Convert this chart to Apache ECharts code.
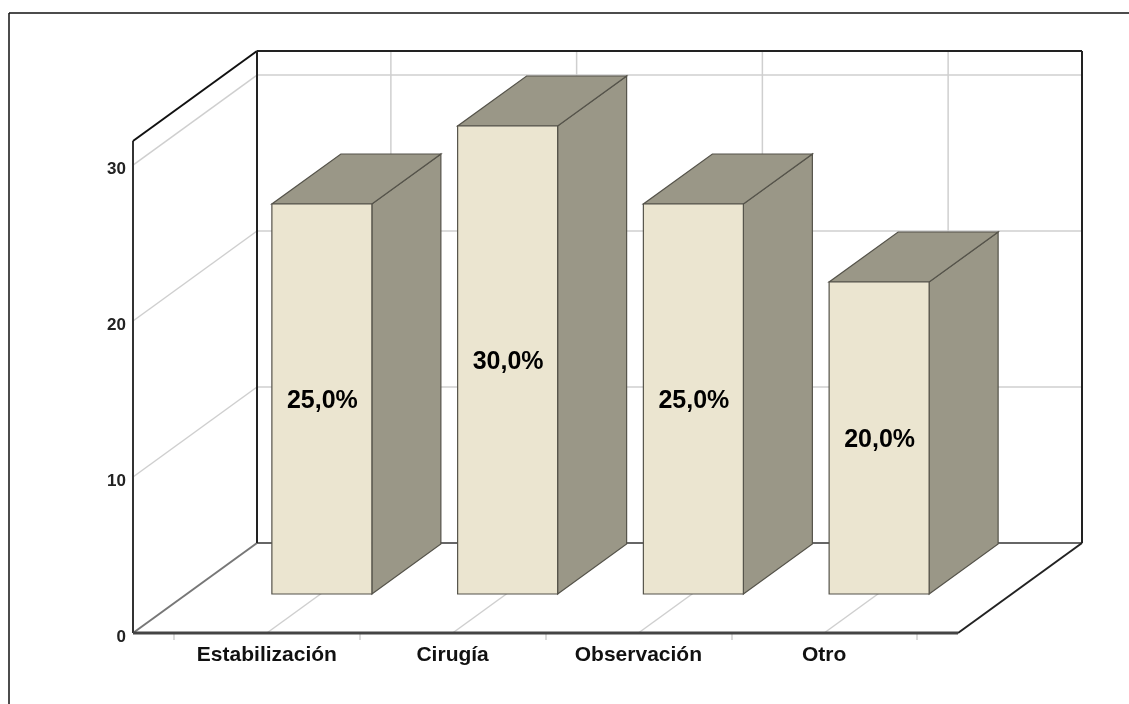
<!DOCTYPE html>
<html><head><meta charset="utf-8">
<style>html,body{margin:0;padding:0;background:#fff}#c{width:1129px;height:704px}</style>
<script src="https://cdn.jsdelivr.net/npm/echarts@6/dist/echarts.min.js"></script>
</head><body><div id="c"></div>
<script>
var categories = ['Estabilización','Cirugía','Observación','Otro'];
var values = [25,30,25,20];
var percentLabels = ['25,0%','30,0%','25,0%','20,0%'];
var wallTicks = [10,20,30];
var yMax = 31.54;

var DX = 124, DY = 90, SIDE = 41;
var BAR_W = 100, BAR_DX = 55, BAR_DY = 39, DEPTH_X = 69, DEPTH_Y = 50;
var FONT = '"Liberation Sans", Arial, sans-serif';

function line(x1,y1,x2,y2,color,w){
  return {type:'line',shape:{x1:x1,y1:y1,x2:x2,y2:y2},style:{stroke:color,lineWidth:w,fill:null}};
}
function poly(pts,fill,stroke){
  return {type:'polygon',shape:{points:pts},style:{fill:fill,stroke:stroke,lineWidth:1.2,lineJoin:'miter'}};
}

function renderFrame(params, api){
  var cs = params.coordSys;
  var xl = cs.x - SIDE, xr = cs.x + cs.width + SIDE;
  var yb = api.coord([0,0])[1], yt = api.coord([0,yMax])[1];
  var kids = [];
  var grid = '#cfcfcf';
  wallTicks.forEach(function(v){
    var y = api.coord([0,v])[1];
    kids.push(line(xl,y,xl+DX,y-DY,grid,1.5));
    kids.push(line(xl+DX,y-DY,xr+DX,y-DY,grid,1.5));
  });
  categories.forEach(function(c,i){
    var x = api.coord([i,0])[0];
    kids.push(line(x,yb,x+DX,yb-DY,grid,1.5));
    kids.push(line(x+DX,yb-DY,x+DX,yt-DY,grid,1.5));
  });
  kids.push(line(xl,yb,xl+DX,yb-DY,'#777',2));
  kids.push(line(xl+DX,yb-DY,xr+DX,yb-DY,'#666',2));
  kids.push(line(xl,yb,xl,yt,'#333',2));
  kids.push(line(xl,yt,xl+DX,yt-DY,'#111',2));
  kids.push(line(xl+DX,yt-DY,xl+DX,yb-DY,'#222',2));
  kids.push(line(xl+DX,yt-DY,xr+DX,yt-DY,'#222',2));
  kids.push(line(xr+DX,yt-DY,xr+DX,yb-DY,'#222',2));
  kids.push(line(xr,yb,xr+DX,yb-DY,'#222',2));
  kids.push(line(xl,yb,xr,yb,'#444',3));
  return {type:'group',children:kids};
}

function renderBar(params, api){
  var i = api.value(0), v = api.value(1);
  var p0 = api.coord([i,0]), p1 = api.coord([i,v]);
  var xa = p0[0] + BAR_DX - BAR_W/2, xb = xa + BAR_W;
  var yb = p0[1] - BAR_DY, yt = p1[1] - BAR_DY;
  var top = '#9a9787', side = '#9a9787', front = '#ebe5d0', edge = '#55534a';
  return {type:'group',children:[
    poly([[xb,yb],[xb+DEPTH_X,yb-DEPTH_Y],[xb+DEPTH_X,yt-DEPTH_Y],[xb,yt]],side,edge),
    poly([[xa,yt],[xb,yt],[xb+DEPTH_X,yt-DEPTH_Y],[xa+DEPTH_X,yt-DEPTH_Y]],top,edge),
    poly([[xa,yb],[xb,yb],[xb,yt],[xa,yt]],front,edge),
    {type:'text',style:{text:percentLabels[i],x:(xa+xb)/2+0.5,y:(yb+yt)/2+2,align:'center',verticalAlign:'middle',
      font:'bold 25px '+FONT,fill:'#000'}}
  ]};
}

var chart = echarts.init(document.getElementById('c'),null,{renderer:'canvas'});
chart.setOption({
  animation:false,
  backgroundColor:'#fff',
  graphic:[
    {type:'line',shape:{x1:9,y1:13,x2:1129,y2:13},style:{stroke:'#111',lineWidth:1.5}},
    {type:'line',shape:{x1:9,y1:13,x2:9,y2:704},style:{stroke:'#111',lineWidth:1.5}}
  ],
  grid:{left:174,top:141,width:743,height:492,containLabel:false},
  xAxis:{type:'category',data:categories,boundaryGap:true,
    axisLine:{show:false},
    axisTick:{show:true,alignWithLabel:false,length:7,lineStyle:{color:'#cfcfcf',width:1.5}},
    axisLabel:{interval:0,margin:12,fontFamily:FONT,fontWeight:'bold',fontSize:21,color:'#111'}},
  yAxis:{type:'value',min:0,max:yMax,interval:10,offset:SIDE,
    axisLine:{show:false},axisTick:{show:false},splitLine:{show:false},
    axisLabel:{showMaxLabel:false,margin:7,verticalAlign:'top',lineHeight:8,fontFamily:FONT,fontWeight:'bold',fontSize:17,color:'#222'}},
  series:[
    {type:'custom',coordinateSystem:'cartesian2d',clip:false,silent:true,z:1,
      renderItem:renderFrame,data:[[0,0]],encode:{x:0,y:1}},
    {type:'custom',coordinateSystem:'cartesian2d',clip:false,silent:true,z:2,
      renderItem:renderBar,data:values.map(function(v,i){return [i,v];}),encode:{x:0,y:1}}
  ]
});
</script></body></html>
